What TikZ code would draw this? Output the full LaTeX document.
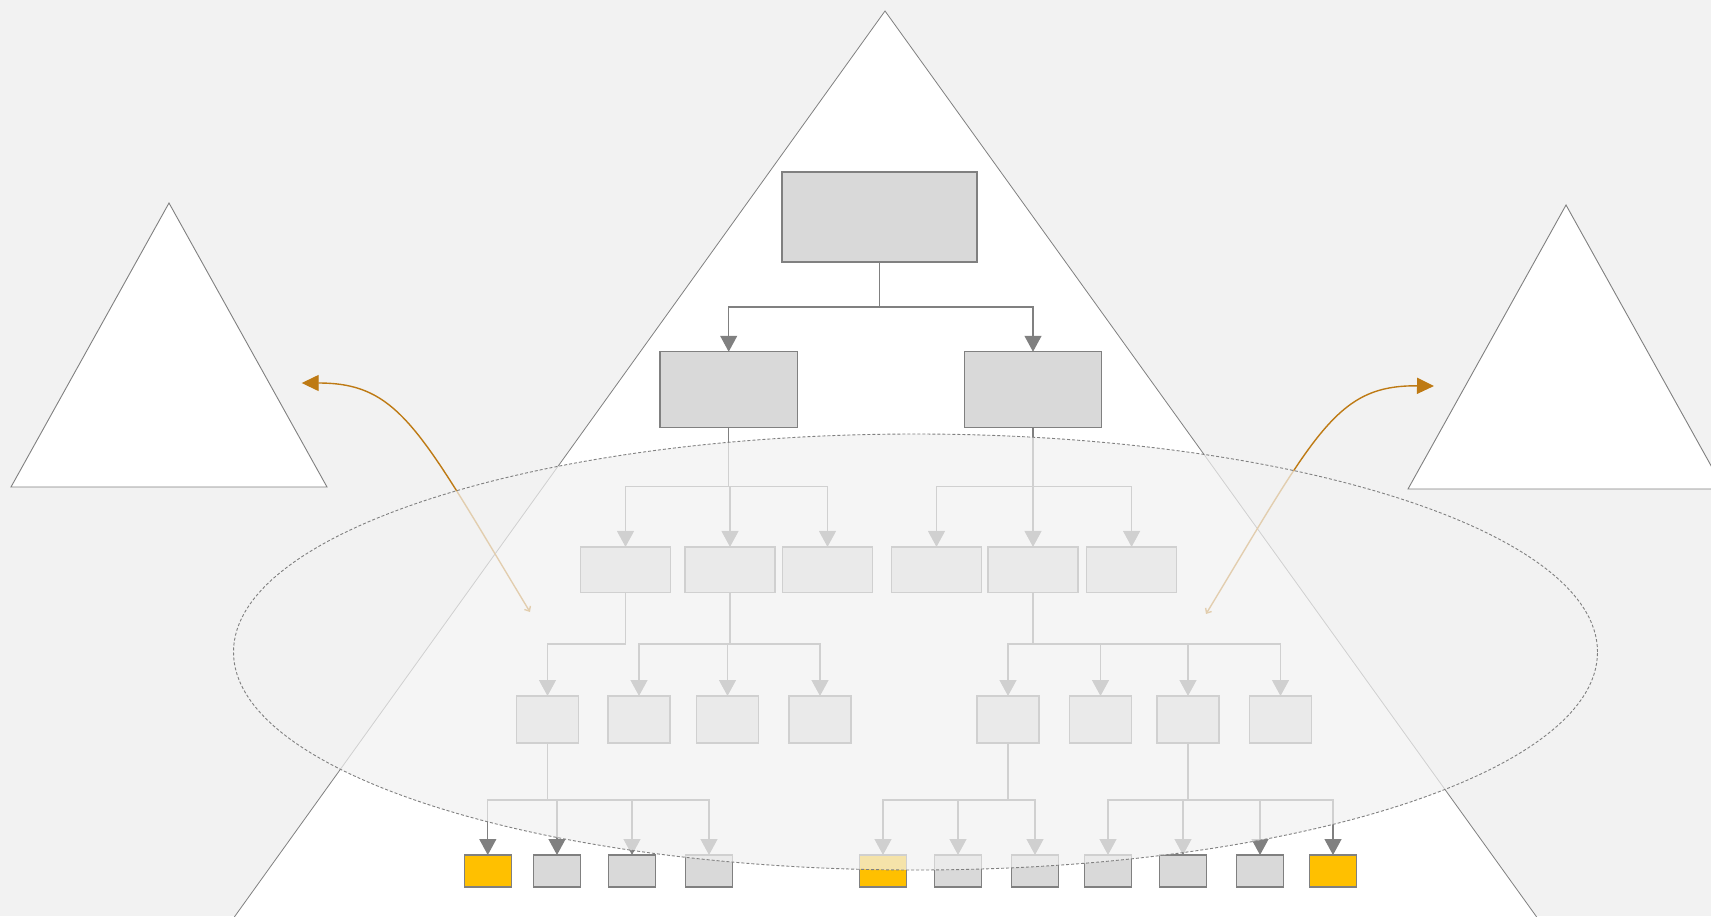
\documentclass[tikz,border=0pt]{standalone}
\usetikzlibrary{arrows.meta}
\definecolor{bg}{HTML}{F2F2F2}
\definecolor{edge}{HTML}{808080}
\definecolor{boxfill}{HTML}{D9D9D9}
\definecolor{gold}{HTML}{FFC000}
\definecolor{amber}{RGB}{190,122,20}
\begin{document}
\begin{tikzpicture}[x=1pt,y=-1pt,
  box/.style={draw=edge,fill=boxfill,line width=1.1pt,inner sep=0pt,outer sep=0pt},
  goldbox/.style={box,fill=gold},
  conn/.style={draw=edge,line width=1.3pt,-{Triangle[width=17pt,length=16pt]}},
  tri/.style={draw=edge,fill=white,line width=0.9pt,line join=miter},
  ocurve/.style={draw=amber,line width=1.4pt,
    {Straight Barb[length=4pt,width=7pt]}-{Triangle[width=16pt,length=17pt]}},
]
\useasboundingbox (0,0) rectangle (1711,916);
\clip (0,0) rectangle (1711,916);
\fill[bg] (0,0) rectangle (1711,916);

% large pyramid behind the hierarchy
\draw[tri,line width=0.8pt] (885,11) -- (174.7,1000) -- (1596.4,1000) -- cycle;
% small pyramids at the sides
\draw[tri] (169,203) -- (11,487) -- (327,487) -- cycle;
\draw[tri] (1566,205) -- (1408,489) -- (1724,489) -- cycle;

% level 1
\node[box,minimum width=195pt,minimum height=90pt] (top) at (879.5,217) {};
% level 2
\node[box,minimum width=137.5pt,minimum height=75.3pt] (ba) at (728.7,389.4) {};
\node[box,minimum width=137.5pt,minimum height=75.3pt] (bb) at (1033,389.4) {};
% level 3
\foreach \n/\x in {ca/625.5,cb/730,cc/827.5,cd/936.5,ce/1033,cf/1131.6}
  \node[box,minimum width=90pt,minimum height=45.3pt] (\n) at (\x,569.6) {};
% level 4
\foreach \n/\x in {da/547.5,db/639,dc/727.5,dd/820,de/1008,df/1100.5,dg/1188,dh/1280.5}
  \node[box,minimum width=62pt,minimum height=47pt] (\n) at (\x,719.5) {};
% level 5
\foreach \n/\x/\s in {ea/487.8/goldbox,eb/557/box,ec/632/box,ed/709/box,
    ee/883/goldbox,ef/958/box,eg/1035/box,eh/1108/box,ei/1183/box,ej/1260/box,ek/1333/goldbox}
  \node[\s,minimum width=47.4pt,minimum height=32pt] (\n) at (\x,871) {};

% connectors
\foreach \c in {ba,bb}
  \draw[conn] (top.south) -- ++(0,45) -| (\c.north);
\foreach \c in {ca,cb,cc}
  \draw[conn] (ba.south) -- ++(0,59.7) -| (\c.north);
\foreach \c in {cd,ce,cf}
  \draw[conn] (bb.south) -- ++(0,59.7) -| (\c.north);
\draw[conn] (ca.south) -- ++(0,51.8) -| (da.north);
\foreach \c in {db,dc,dd}
  \draw[conn] (cb.south) -- ++(0,51.8) -| (\c.north);
\foreach \c in {de,df,dg,dh}
  \draw[conn] (ce.south) -- ++(0,51.8) -| (\c.north);
\foreach \c in {ea,eb,ec,ed}
  \draw[conn] (da.south) -- ++(0,57) -| (\c.north);
\foreach \c in {ee,ef,eg}
  \draw[conn] (de.south) -- ++(0,57) -| (\c.north);
\foreach \c in {eh,ei,ej,ek}
  \draw[conn] (dg.south) -- ++(0,57) -| (\c.north);

% curved links towards the side pyramids
\coordinate (lfoot) at (530,612);
\coordinate (lhead) at (301.7,383);
\coordinate (rfoot) at (1206,614);
\coordinate (rhead) at (1434,386);
\draw[ocurve] (lfoot) .. controls (420,430) and (400,383) .. (lhead);
\draw[ocurve] (rfoot) .. controls (1316,432) and (1336,385) .. (rhead);

% translucent ellipse over the middle of the hierarchy
\fill[bg,fill opacity=0.7] (915.5,652) ellipse [x radius=682pt,y radius=218pt];
\draw[edge,line width=0.9pt,dash pattern=on 3pt off 2pt]
  (915.5,652) ellipse [x radius=682pt,y radius=218pt];
\end{tikzpicture}
\end{document}
